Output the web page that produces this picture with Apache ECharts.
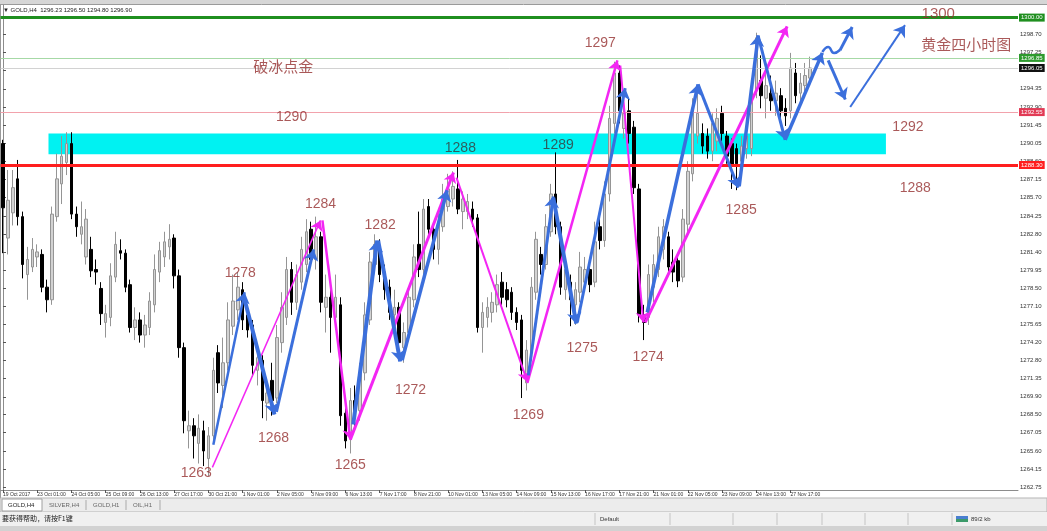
<!DOCTYPE html>
<html><head><meta charset="utf-8">
<script src="https://cdn.jsdelivr.net/npm/echarts@6/dist/echarts.min.js"></script>
<style>html,body{margin:0;padding:0;background:#fff}#c{width:1047px;height:531px}</style>
</head><body><div id="c"></div>
<script>
// ---- candle values (H4 bars) ----
const open = [
1290.0,1282.5,1284.5,1287.2,1284.2,1279.6,1280.2,1281.0,1281.2,1278.6,
1277.6,1284.2,1286.8,1288.5,1290.0,1284.4,1282.8,1281.0,1281.6,1280.0,
1278.5,1275.8,1276.2,1279.4,1281.5,1281.3,1278.8,1275.4,1276.0,1274.8,
1275.4,1277.2,1279.8,1281.0,1281.8,1282.5,1279.5,1273.8,1267.2,1267.6,
1266.2,1267.2,1265.0,1266.8,1273.4,1270.8,1272.6,1275.5,1276.8,1278.4,
1276.4,1275.6,1272.0,1272.8,1269.4,1271.2,1269.8,1274.2,1276.2,1280.0,
1277.4,1279.0,1280.4,1283.2,1280.8,1282.6,1277.0,1277.8,1276.2,1277.2,
1268.6,1266.6,1269.6,1268.8,1271.8,1276.0,1280.4,1281.8,1279.8,1278.6,
1276.4,1277.0,1273.8,1275.0,1277.6,1282.0,1280.0,1285.0,1283.2,1281.6,
1283.4,1285.0,1285.6,1286.4,1284.6,1284.6,1284.8,1284.1,1275.4,1276.2,
1276.6,1277.2,1279.0,1278.4,1278.2,1276.6,1276.0,1271.0,1273.4,1278.2,
1281.2,1280.4,1283.0,1286.0,1283.4,1278.4,1279.0,1277.2,1278.2,1279.0,
1280.0,1279.0,1283.4,1282.3,1286.0,1291.6,1295.6,1291.2,1292.6,1291.3,
1286.4,1276.4,1276.2,1278.6,1280.0,1281.6,1282.6,1280.6,1280.7,1279.4,
1283.6,1287.6,1290.6,1290.8,1290.6,1289.4,1290.2,1292.4,1290.6,1290.0,
1289.6,1288.6,1289.6,1289.6,1294.2,1295.0,1293.6,1294.0,1293.4,1293.8,
1292.8,1292.6,1295.6,1294.0,1294.6,1295.2];
const close = [
1284.9,1285.5,1286.5,1284.2,1280.4,1280.8,1281.6,1281.4,1278.6,1277.6,
1284.4,1287.2,1289.0,1290.0,1284.4,1283.4,1283.4,1284.0,1279.9,1279.8,
1276.5,1276.5,1279.5,1282.0,1281.3,1278.6,1275.4,1276.0,1274.8,1275.6,
1277.5,1280.0,1281.5,1282.2,1282.4,1279.5,1273.8,1268.0,1267.6,1266.8,
1267.4,1265.6,1266.8,1272.0,1271.0,1272.6,1276.0,1277.5,1278.6,1276.0,
1275.2,1272.4,1273.0,1269.6,1270.2,1269.6,1274.6,1277.0,1280.0,1277.4,
1279.6,1281.6,1283.0,1280.8,1282.6,1277.4,1277.8,1276.2,1277.8,1268.4,
1266.4,1269.6,1268.8,1271.8,1276.4,1280.6,1282.0,1279.6,1278.4,1276.6,
1277.0,1274.2,1275.0,1277.8,1281.0,1280.0,1284.8,1283.2,1281.6,1283.6,
1285.6,1286.4,1286.6,1284.8,1285.6,1285.4,1284.0,1275.4,1276.6,1277.0,
1277.4,1278.8,1277.8,1277.6,1276.6,1275.8,1272.0,1273.6,1278.6,1282.4,
1280.4,1283.4,1286.0,1283.4,1278.6,1280.0,1277.6,1278.4,1280.2,1280.0,
1278.8,1282.2,1282.3,1286.0,1292.0,1295.6,1292.6,1292.4,1290.8,1286.5,
1276.4,1275.8,1279.6,1280.4,1282.6,1283.4,1280.2,1279.8,1279.1,1284.0,
1287.8,1292.8,1292.4,1289.8,1289.4,1291.6,1292.0,1290.8,1289.0,1288.2,
1288.4,1289.8,1290.6,1294.4,1298.4,1293.8,1294.6,1293.4,1294.0,1292.6,
1292.2,1296.0,1293.8,1294.8,1295.4,1296.0];
const low = [
1281.3,1281.2,1283.5,1283.5,1279.3,1277.6,1279.8,1280.2,1278.2,1276.6,
1277.2,1283.8,1285.2,1287.5,1284.0,1282.6,1282.0,1280.4,1279.4,1278.8,
1275.6,1274.6,1275.5,1279.0,1280.8,1278.2,1275.0,1274.4,1274.2,1273.8,
1274.8,1276.6,1279.0,1280.2,1280.8,1278.5,1273.0,1267.0,1265.8,1265.0,
1264.6,1264.4,1263.6,1266.2,1270.2,1269.0,1272.0,1274.8,1276.0,1275.2,
1274.6,1271.5,1270.8,1268.2,1268.0,1268.4,1269.4,1273.4,1275.6,1276.4,
1276.8,1278.4,1279.8,1280.2,1280.0,1276.6,1275.0,1273.4,1275.2,1267.6,
1265.8,1265.4,1267.2,1268.0,1271.2,1275.6,1279.8,1279.0,1277.6,1276.0,
1275.0,1272.8,1272.6,1274.4,1277.0,1279.4,1279.6,1282.4,1280.8,1280.4,
1283.0,1284.6,1285.0,1284.4,1283.2,1284.0,1283.4,1275.0,1273.4,1275.4,
1275.8,1276.6,1277.2,1277.0,1276.0,1275.2,1269.8,1270.4,1273.0,1277.6,
1279.6,1280.0,1282.6,1282.8,1278.0,1277.6,1275.5,1275.6,1277.4,1278.4,
1278.2,1278.6,1281.6,1281.8,1285.4,1290.8,1291.6,1290.4,1290.0,1286.0,
1275.8,1274.4,1275.6,1277.4,1279.4,1280.8,1279.6,1279.0,1278.6,1279.0,
1282.6,1287.0,1290.0,1289.2,1288.8,1288.6,1289.4,1290.2,1288.4,1286.4,
1286.3,1287.8,1288.8,1289.0,1293.6,1292.8,1292.0,1292.6,1292.2,1291.6,
1291.4,1292.0,1293.2,1293.4,1294.0,1294.8];
const high = [
1290.3,1287.9,1287.9,1288.7,1284.6,1281.8,1282.5,1282.0,1281.6,1279.2,
1285.0,1289.2,1290.6,1290.9,1290.9,1285.0,1285.4,1284.8,1282.6,1280.8,
1279.0,1277.2,1280.5,1283.0,1282.4,1281.6,1279.2,1277.0,1276.6,1276.4,
1278.2,1281.2,1282.2,1283.0,1283.6,1282.8,1280.0,1274.2,1268.8,1268.2,
1268.5,1268.0,1267.5,1273.0,1274.0,1274.6,1277.4,1279.6,1279.8,1279.0,
1277.0,1276.0,1274.0,1273.2,1271.0,1272.6,1275.6,1278.2,1281.0,1280.6,
1280.4,1282.6,1284.0,1283.8,1284.2,1283.0,1279.6,1278.6,1279.6,1277.8,
1269.0,1270.6,1270.8,1272.6,1277.4,1281.4,1282.8,1282.4,1280.4,1279.2,
1278.4,1277.4,1275.8,1278.6,1282.0,1284.6,1285.6,1285.6,1283.6,1284.6,
1286.8,1287.6,1287.8,1288.7,1286.2,1286.0,1285.4,1284.4,1277.4,1277.8,
1278.2,1279.6,1279.8,1279.0,1278.6,1277.0,1276.4,1274.4,1279.4,1283.0,
1281.8,1284.4,1286.8,1289.3,1283.8,1281.0,1279.6,1279.0,1281.4,1281.0,
1280.6,1283.8,1284.6,1287.0,1293.0,1296.5,1296.2,1293.4,1293.6,1291.8,
1286.8,1277.2,1280.4,1281.2,1283.4,1284.0,1283.0,1281.6,1281.2,1284.8,
1288.6,1293.6,1294.4,1291.6,1291.2,1292.4,1292.8,1293.0,1291.0,1290.4,
1290.0,1290.6,1291.4,1295.2,1298.8,1297.0,1296.0,1295.4,1295.0,1294.4,
1293.6,1297.2,1296.4,1295.6,1296.4,1296.9];

// ---- axis content ----
const slotCount = 208;          // bar slots incl. empty future area
const tickEvery = 7;            // a time label every 7 bars
const tickLabels = ['19 Oct 2017','23 Oct 01:00','24 Oct 05:00','25 Oct 09:00','26 Oct 13:00','27 Oct 17:00',
  '30 Oct 21:00','1 Nov 01:00','2 Nov 05:00','3 Nov 09:00','6 Nov 13:00','7 Nov 17:00','8 Nov 21:00',
  '10 Nov 01:00','13 Nov 05:00','14 Nov 09:00','15 Nov 13:00','16 Nov 17:00','17 Nov 21:00','21 Nov 01:00',
  '22 Nov 05:00','23 Nov 09:00','24 Nov 13:00','27 Nov 17:00'];
const yTickValues = [1262.75,1264.15,1265.60,1267.05,1268.50,1269.90,1271.35,1272.80,1274.20,1275.65,
  1277.10,1278.50,1279.95,1281.40,1282.80,1284.25,1285.70,1287.15,1288.60,1290.05,1291.45,1292.90,
  1294.35,1295.80,1297.25,1298.70];
const yMin = 1262.5, yMax = 1301.0;

// ---- horizontal levels ----
const levelPrices = [1300.0, 1296.8, 1296.0, 1292.5, 1288.3];
const levelTags = ['1300.00','1296.85','1296.05','1292.55','1288.30'];

// ---- cyan zone: [startBar, endBar, topPrice, bottomPrice] ----
const zone = [9.3, 180.5, 1290.8, 1289.15];

// ---- arrows: [fromBar, fromPrice, toBar, toPrice] ----
const blueArrows = [
  [43.0,1266.1,49.4,1278.2],[49.4,1277.6,55.5,1268.5],[55.9,1268.7,63.5,1281.6],
  [71.6,1267.7,76.5,1282.3],[76.7,1282.3,81.2,1272.7],[81.6,1272.8,90.8,1286.3],
  [107.4,1271.6,112.5,1285.8],[112.5,1285.7,117.2,1275.7],[117.4,1275.8,127.2,1294.4],
  [131.7,1276.6,142.1,1294.7],[142.1,1294.7,150.3,1286.5],[150.5,1286.6,154.4,1298.6],
  [154.4,1298.5,159.9,1290.3],[159.9,1290.3,167.5,1297.2],[171.1,1297.4,173.6,1299.25],
  [168.7,1296.6,172.2,1293.5],[173.2,1292.9,184.4,1299.4]];
const blueWave = [[167.5,1297.27],[168.7,1297.67],[169.9,1297.19],[171.1,1297.43]];
const magentaArrows = [
  [42.8,1264.3,64.9,1283.9],[65.3,1283.9,71.0,1266.5],[71.0,1266.5,92.1,1287.7],
  [92.7,1287.3,107.2,1271.1],[107.2,1271.0,125.6,1296.6],[126.2,1296.2,130.9,1275.8],
  [131.3,1275.8,160.3,1299.3]];

// ---- annotation texts ----
const annoText  = ['1300','黄金四小时图','破冰点金','1290','1297','1292','1288','1289','1288','1284','1282',
                   '1278','1285','1275','1274','1272','1269','1268','1265','1263'];
const annoBar   = [191.2,196.9,57.3,59.0,122.1,185.0,93.5,113.5,186.5,64.9,77.1,48.5,150.9,118.4,131.9,83.3,107.4,55.3,71.0,39.5];
const annoPrice = [1300.29,1297.90,1296.16,1292.11,1297.98,1291.32,1289.65,1289.89,1286.48,1285.21,1283.54,
                   1279.73,1284.73,1273.78,1273.06,1270.44,1268.46,1266.63,1264.49,1263.86];
const annoDark  = ['1288@6','1289@7'];

// ---------------- styles ----------------
const FONT = 'Liberation Sans, Arial, sans-serif';
const CJK = 'Noto Sans CJK SC, sans-serif';
const levelStyles = [
  {line:{color:'#1f8f1f',width:3,type:'solid'}, bg:'#1f8f1f', fg:'#ffffff'},
  {line:{color:'#a6d9a6',width:1,type:'solid'}, bg:'#2e9a2e', fg:'#ffffff'},
  {line:{color:'#d2d2d2',width:1,type:'solid'}, bg:'#111111', fg:'#ffffff'},
  {line:{color:'#f2a2ac',width:1,type:'solid'}, bg:'#e23a55', fg:'#ffffff'},
  {line:{color:'#ff1e1e',width:3,type:'solid'}, bg:'#ff1e1e', fg:'#ffffff'}
];
const blueWidths = [2.5,4,3,4,4,3.5,3,4,3,3.5,3,3.5,3,3.5,3,3,2];
const magentaWidths = [1.5,2.5,3,2,2.5,2,3];
const BLUE = '#3b6fdc', MAGENTA = '#f326f3', TEXTRED = '#952f2f';

const slots = Array.from({length: slotCount}, (_, k) => String(k));
const candles = open.map((o, k) => [o, close[k], low[k], high[k]]);
const tickAt = (idx) => idx % tickEvery === 0 && (idx / tickEvery) < tickLabels.length;

function arrowData(list, widths, color) {
  return list.map((a, k) => [
    {coord:[a[0], a[1]], lineStyle:{color: color, width: widths[k], type:'solid', opacity:1}},
    {coord:[a[2], a[3]]}
  ]);
}

const chart = echarts.init(document.getElementById('c'), null, {renderer:'canvas'});
const option = {
  animation: false,
  backgroundColor: '#ffffff',
  grid: {left: 0, right: 29, top: 5, bottom: 41, containLabel: false},
  xAxis: [
    {type:'category', data: slots, boundaryGap: true,
     axisLine:{show:true, lineStyle:{color:'#8c8c8c', width:1}},
     axisTick:{show:true, alignWithLabel:true, interval:(i)=>tickAt(i), length:3, lineStyle:{color:'#555'}},
     axisLabel:{show:true, interval:(i)=>tickAt(i), formatter:(v, i)=> tickLabels[i / tickEvery] || '',
                fontSize:5, color:'#333', margin:2, align:'left', fontFamily: FONT},
     splitLine:{show:false}},
    {type:'value', min:-0.5, max: slotCount - 0.5, show:false}
  ],
  yAxis: [{
    type:'value', position:'right', min: yMin, max: yMax, scale:true,
    axisLine:{show:true, lineStyle:{color:'#8c8c8c', width:1}},
    axisTick:{show:true, customValues: yTickValues, length:3, lineStyle:{color:'#555'}},
    axisLabel:{show:true, customValues: yTickValues, formatter:(v)=>v.toFixed(2), fontSize:6, color:'#333', margin:2, fontFamily: FONT},
    splitLine:{show:false}
  }],
  series: [
    { // cyan zone (under candles)
      type:'line', xAxisIndex:1, yAxisIndex:0, data:[], z:1, silent:true,
      markArea:{silent:true, z:1, itemStyle:{color:'#00f2f2', opacity:1},
        data:[[{coord:[zone[0], zone[2]]},{coord:[zone[1], zone[3]]}]]}
    },
    {
      type:'candlestick', xAxisIndex:0, yAxisIndex:0, data: candles, barWidth:3, z:2,
      itemStyle:{color:'#d2d2d2', color0:'#000000', borderColor:'#959595', borderColor0:'#000000', borderWidth:1},
      emphasis:{disabled:true}
    },
    { // horizontal levels
      type:'line', xAxisIndex:0, yAxisIndex:0, data:[], z:3, silent:true,
      markLine:{silent:true, z:5, symbol:'none', animation:false, emphasis:{disabled:true},
        data: levelPrices.map((p, k) => ({
          yAxis: p, lineStyle: levelStyles[k].line,
          label:{show:true, position:'end', formatter: levelTags[k], backgroundColor: levelStyles[k].bg,
                 color: levelStyles[k].fg, fontSize:6, padding:[1,2,1,2], distance:1, fontFamily: FONT}
        }))}
    },
    { // magenta arrows
      type:'line', xAxisIndex:1, yAxisIndex:0, data:[], z:4, silent:true,
      markLine:{silent:true, z:6, symbol:['none','arrow'], symbolSize:10, animation:false,
        emphasis:{disabled:true}, label:{show:false},
        data: arrowData(magentaArrows, magentaWidths, MAGENTA)}
    },
    { // blue arrows + wave
      type:'line', xAxisIndex:1, yAxisIndex:0, data: blueWave, smooth:true, z:5, silent:true,
      showSymbol:false, symbol:'none', lineStyle:{color: BLUE, width:2.5},
      markLine:{silent:true, z:7, symbol:['none','arrow'], symbolSize:11, animation:false,
        emphasis:{disabled:true}, label:{show:false},
        data: arrowData(blueArrows, blueWidths, BLUE)}
    },
    { // texts
      type:'scatter', xAxisIndex:1, yAxisIndex:0, z:8, silent:true, symbolSize:1,
      itemStyle:{color:'rgba(0,0,0,0)'},
      label:{show:true, position:'inside', formatter:(p)=>p.name, fontSize:14, color: TEXTRED, fontFamily: FONT},
      data: annoText.map((t, k) => {
        const cjk = /[\u4e00-\u9fff]/.test(t);
        const dark = annoDark.indexOf(t + '@' + k) >= 0;
        return {name: t, value:[annoBar[k], annoPrice[k]],
                label:{color: dark ? '#383838' : TEXTRED, fontFamily: cjk ? CJK : FONT,
                       fontSize: cjk ? 15 : (t === '1300' ? 15 : 14)}};
      })
    }
  ],
  graphic: [
    {type:'rect', shape:{x:0, y:0, width:1047, height:4}, style:{fill:'#d6d6d6'}, silent:true, z:0},
    {type:'line', shape:{x1:0, y1:4.5, x2:1047, y2:4.5}, style:{stroke:'#9a9a9a', lineWidth:1}, silent:true},
    {type:'line', shape:{x1:0.5, y1:4, x2:0.5, y2:498}, style:{stroke:'#9a9a9a', lineWidth:1}, silent:true},
    {type:'text', left:3, top:7, style:{text:'▼ GOLD,H4  1296.23 1296.50 1294.80 1296.90', fontSize:6, fill:'#222', fontFamily: FONT}, silent:true, z:20},
    {type:'rect', shape:{x:0, y:498, width:1047, height:14}, style:{fill:'#ececec', stroke:'#b5b5b5', lineWidth:1}, silent:true},
    {type:'rect', shape:{x:2, y:499, width:40, height:12}, style:{fill:'#ffffff', stroke:'#a0a0a0', lineWidth:1}, silent:true},
    {type:'text', left:8, top:502, style:{text:'GOLD,H4', fontSize:6, fill:'#222', fontFamily: FONT}, silent:true},
    {type:'text', left:49, top:502, style:{text:'SILVER,H4', fontSize:6, fill:'#666', fontFamily: FONT}, silent:true},
    {type:'line', shape:{x1:86, y1:500, x2:86, y2:510}, style:{stroke:'#aaa'}, silent:true},
    {type:'text', left:93, top:502, style:{text:'GOLD,H1', fontSize:6, fill:'#666', fontFamily: FONT}, silent:true},
    {type:'line', shape:{x1:126, y1:500, x2:126, y2:510}, style:{stroke:'#aaa'}, silent:true},
    {type:'text', left:133, top:502, style:{text:'OIL,H1', fontSize:6, fill:'#666', fontFamily: FONT}, silent:true},
    {type:'line', shape:{x1:160, y1:500, x2:160, y2:510}, style:{stroke:'#aaa'}, silent:true},
    {type:'rect', shape:{x:0, y:512, width:1047, height:14}, style:{fill:'#f0f0f0'}, silent:true},
    {type:'text', left:2, top:515, style:{text:'要获得帮助，请按F1键', fontSize:7, fill:'#222', fontFamily: CJK}, silent:true},
    {type:'text', left:600, top:516, style:{text:'Default', fontSize:6, fill:'#333', fontFamily: FONT}, silent:true},
    ...[595,670,733,777,822,865,908,952].map(x => ({type:'line', shape:{x1:x, y1:513, x2:x, y2:525}, style:{stroke:'#c4c4c4'}, silent:true})),
    {type:'rect', shape:{x:956, y:516, width:12, height:6}, style:{fill:'#3c9a6a'}, silent:true},
    {type:'rect', shape:{x:956, y:516, width:12, height:3}, style:{fill:'#4a7fd0'}, silent:true},
    {type:'text', left:971, top:516, style:{text:'89/2 kb', fontSize:6, fill:'#333', fontFamily: FONT}, silent:true},
    {type:'rect', shape:{x:0, y:526, width:1047, height:5}, style:{fill:'#d2d2d2'}, silent:true}
  ]
};
chart.setOption(option);
</script>
</body></html>
